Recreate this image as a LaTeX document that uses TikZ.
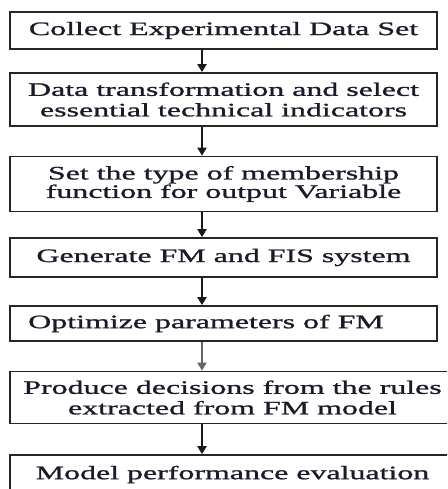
\documentclass[tikz,border=0pt]{standalone}
\usepackage{fontspec}
\setmainfont{Liberation Serif}[FakeStretch=1.68, FakeBold=1.2]
\usepackage{xcolor}
\usepackage{tikz}
\usetikzlibrary{arrows.meta, positioning, calc}
\definecolor{inkdark}{HTML}{1C1A28}
\tikzset{
    flowchart/.style={>={Triangle[width=9pt, length=8pt]}, x=1pt, y=-1pt},
    stepbox/.style={draw=black!85, line width=1.7pt, minimum width=427pt, align=center,
        inner sep=0pt, text=inkdark, font=\fontsize{19}{20.5}\selectfont},
    widebox/.style={stepbox, minimum width=445pt},
    flowline/.style={->, line width=2pt, draw=black!90},
}

\begin{document}
\begin{tikzpicture}[flowchart]
    \path[use as bounding box, clip] (0,0) rectangle (447,489);

    \node[stepbox, minimum height=37pt] (collect) at (223.5,30.5) {Collect Experimental Data Set};
    \node[stepbox, minimum height=53pt] (transform) at (223.5,99.5)
        {Data transformation and select\\essential technical indicators};
    \node[stepbox, minimum height=55pt, font=\fontsize{19}{17}\selectfont] (membership) at (223.5,184)
        {Set the type of membership\\function for output Variable};
    \node[stepbox, minimum height=39pt] (generate) at (223.5,257.5) {Generate FM and FIS system};
    \node[stepbox, minimum height=35pt] (optimize) at (223.5,323.5) {Optimize parameters of FM\hspace*{35pt}};
    \node[widebox, minimum height=52pt] (decide) at (232.5,397.5)
        {Produce decisions from the rules\\extracted from FM model};
    \node[widebox, minimum height=39pt] (evaluate) at (232.5,474.5) {Model performance evaluation};

    % arrows run left of the box centres
    \coordinate (spine) at (202,0);
    \draw[flowline] (collect.south -| spine) -- (transform.north -| spine);
    \draw[flowline] (transform.south -| spine) -- (membership.north -| spine);
    \draw[flowline] (membership.south -| spine) -- (generate.north -| spine);
    \draw[flowline] (generate.south -| spine) -- (optimize.north -| spine);
    \draw[flowline, draw=black!60] (optimize.south -| spine) -- (decide.north -| spine);
    \draw[flowline] (decide.south -| spine) -- (evaluate.north -| spine);
\end{tikzpicture}
\end{document}
